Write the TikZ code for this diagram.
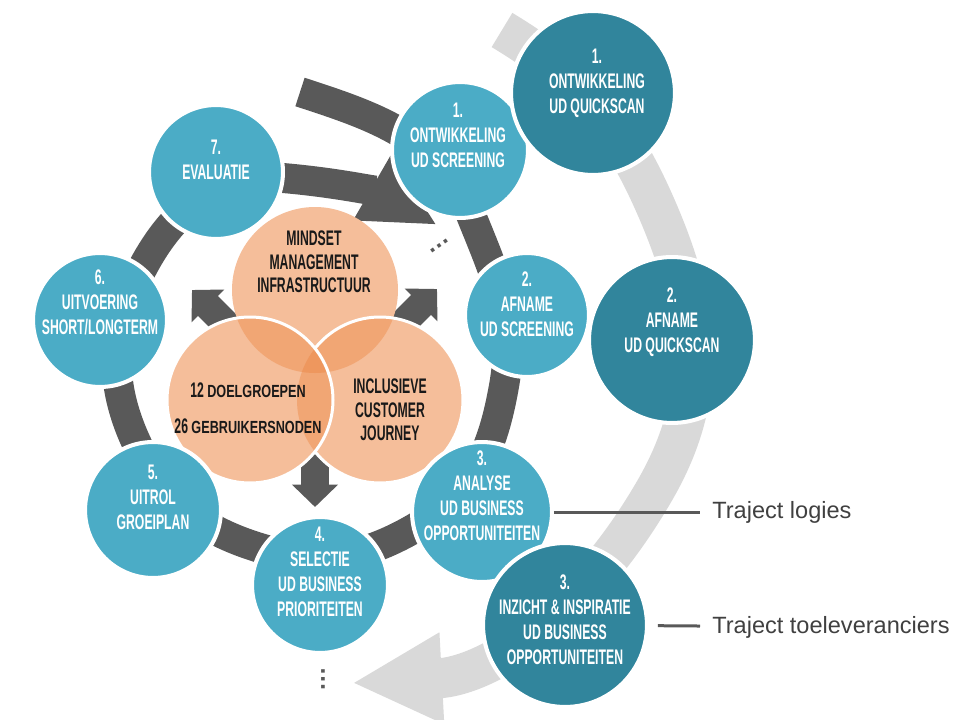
\documentclass[tikz,border=0pt]{standalone}
\usepackage{fontspec}
\setmainfont{Liberation Sans}
\newfontfamily\narrowfont[FakeStretch=0.58]{Liberation Sans}
\newfontfamily\minorfont[FakeStretch=0.72]{Liberation Sans}
\usepackage{xcolor}
\usepackage{tikz}
\usetikzlibrary{arrows.meta,positioning}

\definecolor{stepblue}{HTML}{4BACC6}
\definecolor{scanteal}{HTML}{31859C}
\definecolor{bandgrey}{HTML}{595959}
\definecolor{outergrey}{HTML}{D9D9D9}
\definecolor{peach}{HTML}{F5BE9A}
\definecolor{peachmid}{HTML}{F1A674}
\definecolor{peachdark}{HTML}{EE975E}
\definecolor{notegrey}{HTML}{404040}
\newcommand\minor[1]{{\minorfont\bfseries\fontsize{10}{12}\selectfont #1}}

\begin{document}
\begin{tikzpicture}[
  x=0.02cm, y=0.02cm,
  ring/.style={circle,draw=white,line width=2.3pt,inner sep=0pt,minimum size=#1*0.04cm},
  phase/.style={ring=#1,fill=stepblue},
  scan/.style={ring=#1,fill=scanteal},
  caps/.style={text=white,align=center,inner sep=0pt,
               font=\narrowfont\bfseries\fontsize{12}{14.2}\selectfont},
  core/.style={caps,text=black!90,font=\narrowfont\bfseries\fontsize{12}{13.4}\selectfont},
  spiral/.style={draw=bandgrey,line width=0.6cm},
  outer/.style={draw=outergrey,line width=0.8cm},
  push/.style={draw=bandgrey,line width=0.56cm,-{Triangle[width=0.9cm,length=0.45cm]}},
  dots/.style={text=bandgrey,font=\bfseries\fontsize{14}{14}\selectfont,inner sep=0pt},
  note/.style={text=notegrey,font=\fontsize{13.4}{16}\selectfont,anchor=west,
               inner xsep=0.24cm,inner ysep=0pt},
  lead/.style={draw=bandgrey,line width=0.06cm},
  venn/.style={draw=white,line width=0.06cm}
]
  \useasboundingbox (0,0) rectangle (971,-720);

  \draw[outer,-{Triangle[width=1.7cm,length=1.8cm]}] (502,-30) to[out=-31,in=113] (659,-214)
    to[out=-67,in=60] (655,-490) to[out=-120,in=3] (352,-683);

  \draw[spiral,-{Triangle[width=1.4cm,length=1.5cm]}] (300,-92) to[out=-18,in=112] (471,-215)
    to[out=-68,in=80] (504,-386) to[out=-100,in=31] (420,-525)
    to[out=-149,in=-17] (260,-548) to[out=163,in=-65] (137,-444)
    to[out=115,in=-118] (143,-267) to[out=62,in=175] (283,-178)
    to[out=-5,in=150] (437,-225);

  \draw[push] (315,-420) -- (315,-507);
  \draw[push] (255,-353) -- (192,-290);
  \draw[push] (375,-351) -- (437,-289);

  \coordinate (mindset) at (315,-290);
  \coordinate (groups) at (250,-400);
  \coordinate (journey) at (380,-400);
  \fill[peach] (mindset) circle (83) (groups) circle (83) (journey) circle (83);
  \begin{scope}
    \clip (mindset) circle (83);
    \fill[peachmid] (groups) circle (83) (journey) circle (83);
  \end{scope}
  \begin{scope}
    \clip (groups) circle (83);
    \fill[peachmid] (journey) circle (83);
    \clip (mindset) circle (83);
    \fill[peachdark] (journey) circle (83);
  \end{scope}
  \begin{scope}[even odd rule]
    \clip (0,0) rectangle (971,-720) (groups) circle (83);
    \draw[venn] (journey) circle (83);
  \end{scope}
  \draw[venn] (groups) circle (83);

  \node[phase=67] (evaluate) at (216,-172) {};
  \node[phase=68] (devscreen) at (460,-150) {};
  \node[phase=62] (takescreen) at (527,-315) {};
  \node[phase=70] (analyse) at (482,-512) {};
  \node[phase=68] (select) at (320,-585) {};
  \node[phase=68] (rollout) at (153,-510) {};
  \node[phase=67] (execute) at (100,-320) {};
  \node[scan=82] (devscan) at (593,-93) {};
  \node[scan=83] (takescan) at (672,-340) {};
  \node[scan=82] (insight) at (565,-625) {};

  \node[caps] (tevaluate) at (216,-160) {7.\\EVALUATIE};
  \node[caps] (tdevscreen) at (458,-135) {1.\\ONTWIKKELING\\UD SCREENING};
  \node[caps] (ttakescreen) at (527,-304) {2.\\AFNAME\\UD SCREENING};
  \node[caps] (tanalyse) at (482,-496) {3.\\ANALYSE\\UD BUSINESS\\OPPORTUNITEITEN};
  \node[caps] (tselect) at (320,-572) {4.\\SELECTIE\\UD BUSINESS\\PRIORITEITEN};
  \node[caps] (trollout) at (153,-497) {5.\\UITROL\\GROEIPLAN};
  \node[caps] (texecute) at (100,-302) {6.\\UITVOERING\\SHORT/LONGTERM};
  \node[caps] (tdevscan) at (597,-83) {1.\\ONTWIKKELING\\UD QUICKSCAN};
  \node[caps] (ttakescan) at (672,-322) {2.\\AFNAME\\UD QUICKSCAN};
  \node[caps] (tinsight) at (565,-620) {3.\\INZICHT \& INSPIRATIE\\UD BUSINESS\\OPPORTUNITEITEN};

  \node[core] (tmindset) at (314,-262) {MINDSET\\MANAGEMENT\\INFRASTRUCTUUR};
  \node[core] (tgroups) at (248,-408) {12 \minor{DOELGROEPEN}\\[7pt]26 \minor{GEBRUIKERSNODEN}};
  \node[core] (tjourney) at (390,-410) {INCLUSIEVE\\CUSTOMER\\JOURNEY};

  \node[dots,rotate=35] (moreinner) at (440,-246) {…};
  \node[dots,rotate=90] (moreouter) at (323,-679) {…};

  \node[note] (tlogies) at (700,-512) {Traject logies};
  \node[note] (tsupply) at (700,-627) {Traject toeleveranciers};
  \draw[lead] (analyse) -- (tlogies);
  \draw[lead,shorten <=5pt] (insight) -- (tsupply);
\end{tikzpicture}
\end{document}
